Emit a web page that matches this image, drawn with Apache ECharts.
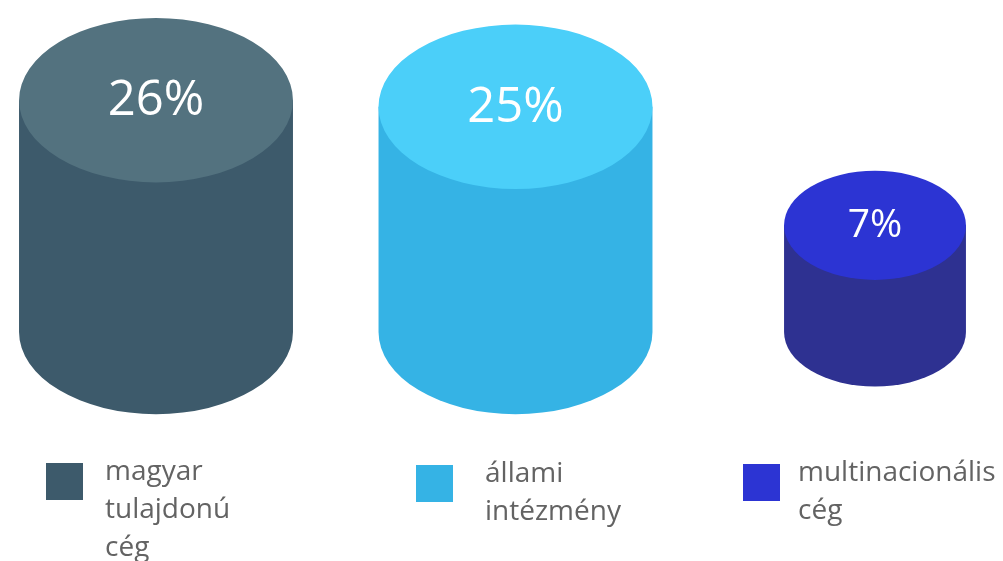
<!DOCTYPE html>
<html>
<head>
<meta charset="utf-8">
<script src="https://cdn.jsdelivr.net/npm/echarts@6/dist/echarts.min.js"></script>
<style>html,body{margin:0;padding:0;background:#fff}#chart{width:1003px;height:561px}</style>
</head>
<body>
<div id="chart"></div>
<script>
// ---- data ----
const categories = ['magyar tulajdonú cég', 'állami intézmény', 'multinacionális cég'];
const values = [26, 25, 7];
const valueLabels = ['26%', '25%', '7%'];
const legendLabels = ['magyar\ntulajdonú\ncég', 'állami\nintézmény', 'multinacionális\ncég'];

// ---- styles ----
const topColors = ['#53727f', '#4bcff9', '#2c34d3'];
const bodyColors = ['#3d5a6b', '#35b3e5', '#2e3191'];
const legendColors = ['#3d5a6b', '#35b3e5', '#2c34d3'];
const widthScale = [1, 1, 0.664];
const labelSizes = [49, 49, 39];
const BASE = -9.2; // axis floor the cylinders stand on

const chart = echarts.init(document.getElementById('chart'));

function ellipsePath(cx, cy, rx, ry) {
  return 'M' + (cx - rx) + ' ' + cy +
    ' A' + rx + ' ' + ry + ' 0 1 0 ' + (cx + rx) + ' ' + cy +
    ' A' + rx + ' ' + ry + ' 0 1 0 ' + (cx - rx) + ' ' + cy + ' Z';
}
function bodyPath(cx, yT, yB, rx, ry) {
  return 'M' + (cx - rx) + ' ' + yT +
    ' L' + (cx - rx) + ' ' + yB +
    ' A' + rx + ' ' + ry + ' 0 0 0 ' + (cx + rx) + ' ' + yB +
    ' L' + (cx + rx) + ' ' + yT + ' Z';
}

function renderItem(params, api) {
  const i = api.value(0);
  const v = api.value(1);
  const top = api.coord([i, v]);
  const bot = api.coord([i, BASE]);
  const band = api.size([1, 0])[0];
  const rx = band * 0.381 * widthScale[i];
  const ry = rx * 0.6;
  const cx = top[0];
  return {
    type: 'group',
    children: [
      { type: 'path', shape: { pathData: bodyPath(cx, top[1], bot[1], rx, ry) },
        style: { fill: bodyColors[i] } },
      { type: 'path', shape: { pathData: ellipsePath(cx, top[1], rx, ry) },
        style: { fill: topColors[i] } },
      { type: 'text', style: { text: valueLabels[i], x: cx, y: top[1] + 1,
          fill: '#ffffff', fontSize: labelSizes[i], fontFamily: 'Open Sans',
          align: 'center', verticalAlign: 'middle' } }
    ]
  };
}

const legendPos = [[46, 463, 105], [416, 465, 485], [743, 464, 798]];
const graphics = [];
legendLabels.forEach((t, i) => {
  const p = legendPos[i];
  graphics.push({ type: 'rect', left: p[0], top: p[1], shape: { width: 37, height: 37 },
    style: { fill: legendColors[i] } });
  graphics.push({ type: 'text', left: p[2], top: p[1] - 10,
    style: { text: t, fontSize: 28, lineHeight: 38, fontFamily: 'Open Sans', fill: '#636363' } });
});

chart.setOption({
  animation: false,
  grid: { left: 156, right: 128, top: 8, bottom: 229 },
  xAxis: { type: 'category', data: categories, boundaryGap: false, show: false },
  yAxis: { type: 'value', min: BASE, max: 40, show: false, splitLine: { show: false } },
  graphic: graphics,
  series: [{
    type: 'custom',
    renderItem: renderItem,
    encode: { x: 0, y: 1 },
    data: values.map((v, i) => [i, v])
  }]
});
</script>
</body>
</html>
